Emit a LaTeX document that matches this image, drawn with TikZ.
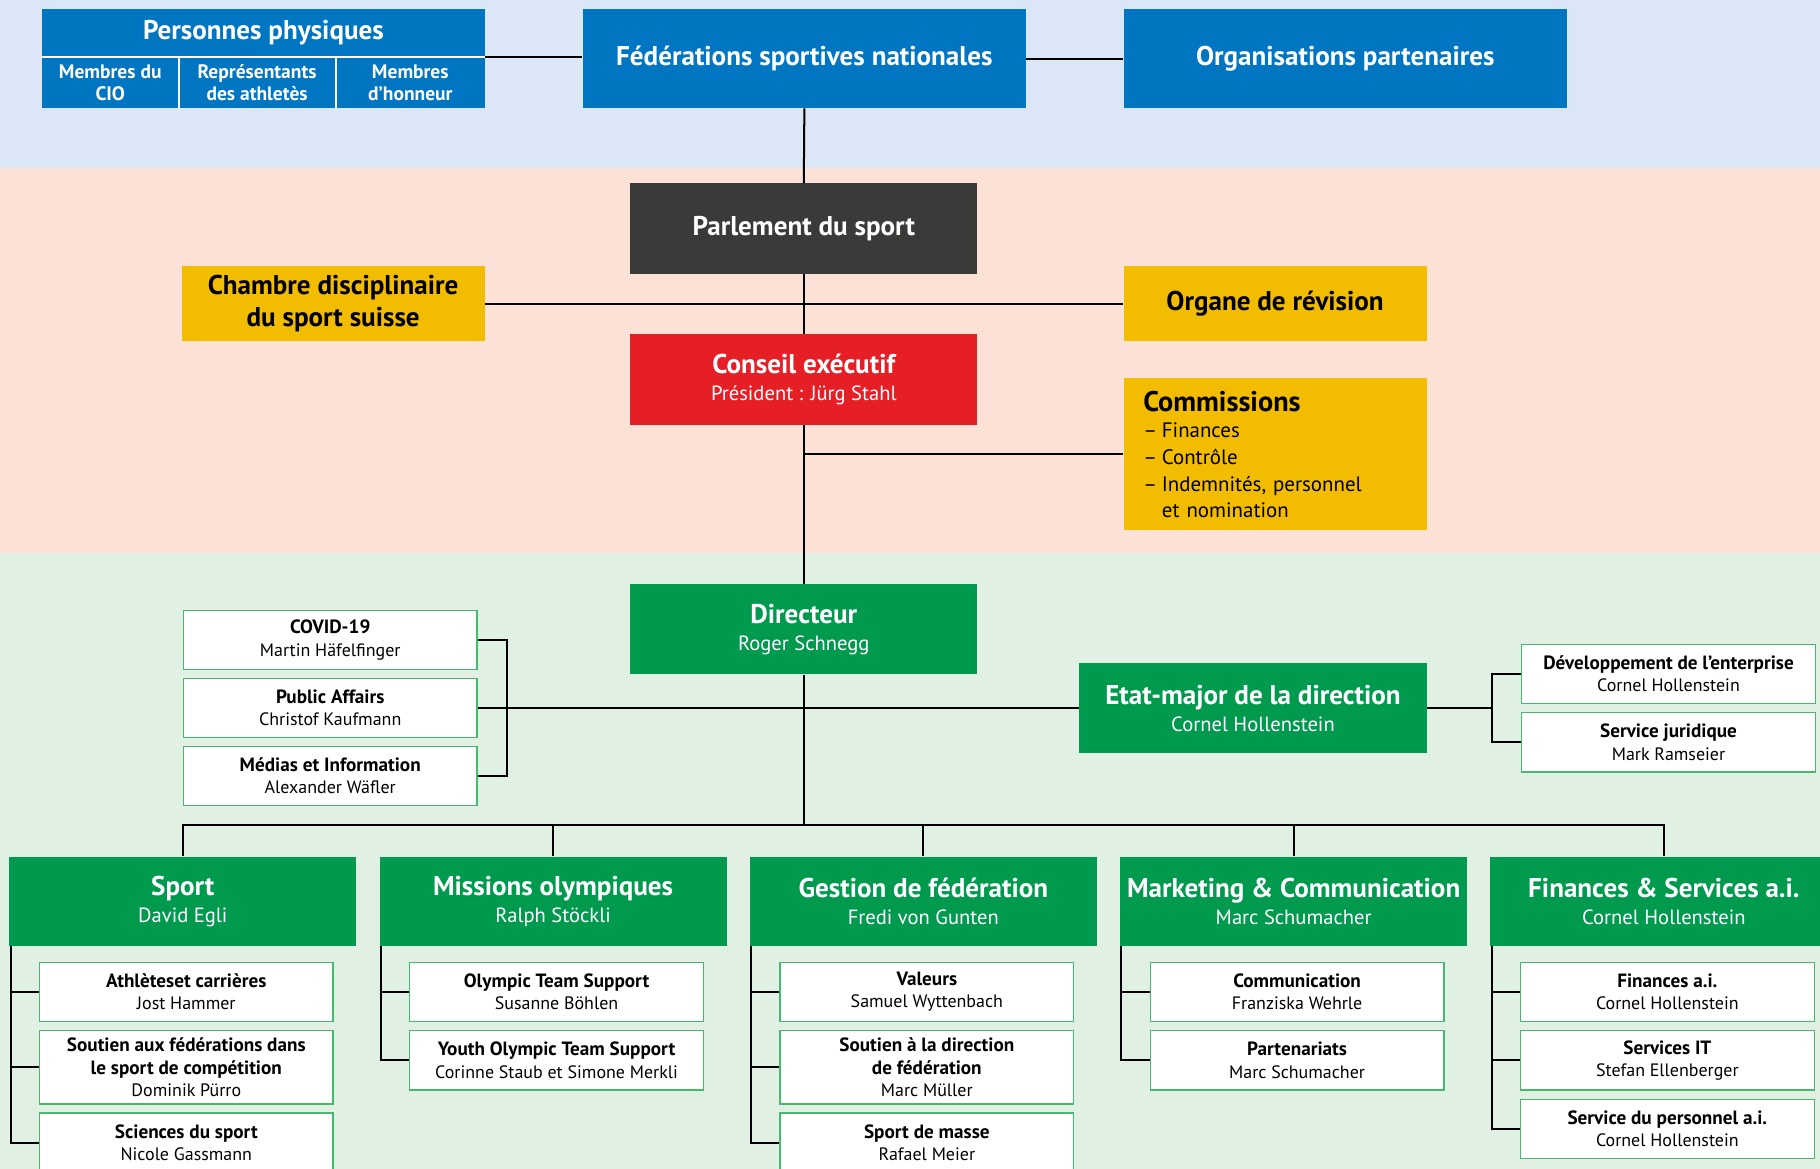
\documentclass[tikz,border=0pt]{standalone}
\usepackage{fontspec}
\setmainfont{PT Sans}
\usepackage{tikz}
\usepackage{xcolor}

\definecolor{bgblue}{RGB}{219,230,246}
\definecolor{bgpink}{RGB}{252,225,215}
\definecolor{bggreen}{RGB}{224,240,226}
\definecolor{sobblue}{RGB}{0,117,193}
\definecolor{sobgray}{RGB}{58,58,56}
\definecolor{sobyellow}{RGB}{242,188,0}
\definecolor{sobred}{RGB}{230,30,37}
\definecolor{sobgreen}{RGB}{0,154,79}
\definecolor{sobline}{RGB}{70,185,110}

\newcommand{\orgtitle}{\fontsize{17.5}{20.5}\selectfont\bfseries}
\newcommand{\orgname}{\fontsize{13.3}{16}\selectfont\mdseries}
\newcommand{\orgcell}{\fontsize{12.6}{14.25}\selectfont\bfseries}
\newcommand{\orgunit}{\fontsize{11.6}{14.5}\selectfont}
\newcommand{\orgbold}[1]{{\fontsize{12.4}{14.5}\selectfont\bfseries #1}}
\newcommand{\orgcomm}{\fontsize{13.5}{17.25}\selectfont}

\tikzset{
  topbox/.style={fill=sobblue, text=white, font=\orgtitle, align=center, inner sep=0pt, minimum width=286.5pt, minimum height=63.75pt},
  cellbox/.style={fill=sobblue, text=white, font=\orgcell, align=center, inner sep=0pt, minimum height=33pt},
  midbox/.style={text=white, font=\orgtitle, align=center, inner sep=0pt, minimum width=224.25pt, minimum height=58.5pt},
  sidebox/.style={fill=sobyellow, text=black, font=\orgtitle, align=center, inner sep=0pt, minimum width=195.75pt, minimum height=48.75pt},
  deptbox/.style={fill=sobgreen, text=white, font=\orgtitle, align=center, inner sep=0pt, minimum width=224.25pt, minimum height=57.75pt},
  unitbox/.style={fill=white, draw=sobline, line width=0.9pt, text=black, font=\orgunit, align=center, inner sep=0pt, minimum width=189.75pt, minimum height=38.25pt},
  tallbox/.style={unitbox, minimum height=47.25pt},
  link/.style={draw=black, line width=1.3pt}
}

\begin{document}
\begin{tikzpicture}[x=0.75pt,y=0.75pt,yscale=-1,xscale=1]
\clip (0,0) rectangle (1568,1007);

%Shape: Rectangle (bands)
\fill [bgblue] (0,0) rectangle (1568,145);
\fill [bgpink] (0,145) rectangle (1568,476);
\fill [bggreen] (0,476) rectangle (1568,1007);

% Text Node
\draw (227,28.5) node [topbox, minimum height=30.75pt] (pers) {Personnes physiques};
% Text Node
\draw (95,71) node [cellbox, minimum width=88.5pt] (cio) {Membres du\\CIO};
% Text Node
\draw (221.5,71) node [cellbox, minimum width=101.25pt] (athl) {Représentants\\des athletès};
% Text Node
\draw (353.5,71) node [cellbox, minimum width=96.75pt] (honn) {Membres\\d’honneur};
%Straight Lines
\draw [white, line width=1pt] (pers.south west) -- (pers.south east);
\draw [white, line width=1pt] (cio.north east) -- (cio.south east);
\draw [white, line width=1pt] (athl.north east) -- (athl.south east);
% Text Node
\draw (693,50.5) node [topbox] (fed) {Fédérations sportives nationales};
% Text Node
\draw (1159,50.5) node [topbox] (org) {Organisations partenaires};

% Text Node
\draw (692.5,197) node [midbox, fill=sobgray] (parl) {Parlement du sport};
% Text Node
\draw (287,261.5) node [sidebox] (chambre) {Chambre disciplinaire\\du sport suisse};
% Text Node
\draw (1098.5,261.5) node [sidebox] (organe) {Organe de révision};
% Text Node
\draw (692.5,327) node [midbox, fill=sobred] (conseil) {Conseil exécutif\\[-3pt]{\orgname Président : Jürg Stahl}};
% Text Node
\draw (1098.5,391.5) node [sidebox, minimum height=98.25pt, font=\orgcomm, align=left, text width=170.25pt, inner xsep=12.75pt] (comm) {{\fontsize{18.3}{20}\selectfont\bfseries Commissions}\\
  \makebox[12pt][l]{–}Finances\\
  \makebox[12pt][l]{–}Contrôle\\
  \makebox[12pt][l]{–}Indemnités, personnel\\
  \hspace*{12pt}et nomination};

% Text Node
\draw (692.5,542) node [midbox, fill=sobgreen] (dir) {Directeur\\[-3pt]{\orgname Roger Schnegg}};
% Text Node
\draw (1079.5,610) node [midbox, fill=sobgreen] (etat) {Etat-major de la direction\\[-3pt]{\orgname Cornel Hollenstein}};
% Text Node
\draw (284.5,551.5) node [unitbox] (covid) {\orgbold{COVID-19}\\Martin Häfelfinger};
\draw (284.5,610) node [unitbox] (public) {\orgbold{Public Affairs}\\Christof Kaufmann};
\draw (284.5,668.5) node [unitbox] (medias) {\orgbold{Médias et Information}\\Alexander Wäfler};
% Text Node
\draw (1437.5,580.5) node [unitbox] (dev) {\orgbold{Développement de l’enterprise}\\Cornel Hollenstein};
\draw (1437.5,639.5) node [unitbox] (jur) {\orgbold{Service juridique}\\Mark Ramseier};

% Text Node (departements)
\draw (157.5,776.5) node [deptbox] (sport) {Sport\\[-3pt]{\orgname David Egli}};
\draw (476.5,776.5) node [deptbox] (miss) {Missions olympiques\\[-3pt]{\orgname Ralph Stöckli}};
\draw (795.5,776.5) node [deptbox] (gest) {Gestion de fédération\\[-3pt]{\orgname Fredi von Gunten}};
\draw (1114.5,776.5) node [deptbox] (mark) {Marketing \& Communication\\[-3pt]{\orgname Marc Schumacher}};
\draw (1433.5,776.5) node [deptbox] (fin) {Finances \& Services a.i.\\[-3pt]{\orgname Cornel Hollenstein}};

% Text Node (sport)
\draw (160.5,854.5) node [unitbox] (ath) {\orgbold{Athlèteset carrières}\\Jost Hammer};
\draw (160.5,919.5) node [tallbox] (souf) {\orgbold{Soutien aux fédérations dans}\\\orgbold{le sport de compétition}\\Dominik Pürro};
\draw (160.5,984.5) node [unitbox] (sci) {\orgbold{Sciences du sport}\\Nicole Gassmann};
% Text Node (missions)
\draw (479.5,854.5) node [unitbox] (ots) {\orgbold{Olympic Team Support}\\Susanne Böhlen};
\draw (479.5,913.5) node [unitbox] (yots) {\orgbold{Youth Olympic Team Support}\\Corinne Staub et Simone Merkli};
% Text Node (gestion)
\draw (798.5,854.5) node [unitbox] (val) {\orgbold{Valeurs}\\Samuel Wyttenbach};
\draw (798.5,919.5) node [tallbox] (soud) {\orgbold{Soutien à la direction}\\\orgbold{de fédération}\\Marc Müller};
\draw (798.5,984.5) node [unitbox] (masse) {\orgbold{Sport de masse}\\Rafael Meier};
% Text Node (marketing)
\draw (1117.5,854.5) node [unitbox] (comu) {\orgbold{Communication}\\Franziska Wehrle};
\draw (1117.5,913.5) node [unitbox] (part) {\orgbold{Partenariats}\\Marc Schumacher};
% Text Node (finances)
\draw (1436.5,854.5) node [unitbox] (fina) {\orgbold{Finances a.i.}\\Cornel Hollenstein};
\draw (1436.5,913.5) node [unitbox] (sit) {\orgbold{Services IT}\\Stefan Ellenberger};
\draw (1436.5,972.5) node [unitbox] (pers2) {\orgbold{Service du personnel a.i.}\\Cornel Hollenstein};

%Straight Lines
\coordinate (lbr) at (437,610);
\coordinate (rbr) at (1285,610);
\coordinate (bus) at (692.5,711);
\draw [link] (pers.south east) -- (pers.south east -| fed.west);
\draw [link] (fed.east) -- (org.west);
\draw [link] (fed.south) -- (parl.north);
\draw [link] (chambre.east) -- (organe.west);
\draw [link] (parl.south) -- (conseil.north);
\draw [link] (conseil.south) -- (dir.north);
\draw [link] (comm.west) -- (comm.west -| conseil.south);
\draw [link] (covid.east) -| (lbr) |- (medias.east);
\draw [link] (public.east) -- (etat.west);
\draw [link] (dev.west) -| (rbr) |- (jur.west);
\draw [link] (etat.east) -- (rbr);
\draw [link] (dir.south) -- (bus);
\draw [link] (sport.north) |- (bus) -| (fin.north);
\foreach \d in {miss,gest,mark}
  \draw [link] (\d.north) -- (\d.north |- bus);

%Straight Lines (brackets)
\foreach \u in {ath,souf,sci}
  \draw [link] (\u.west) -| ([xshift=1pt]sport.south west);
\foreach \u in {ots,yots}
  \draw [link] (\u.west) -| ([xshift=1pt]miss.south west);
\foreach \u in {val,soud,masse}
  \draw [link] (\u.west) -| ([xshift=1pt]gest.south west);
\foreach \u in {comu,part}
  \draw [link] (\u.west) -| ([xshift=1pt]mark.south west);
\foreach \u in {fina,sit,pers2}
  \draw [link] (\u.west) -| ([xshift=1pt]fin.south west);

\end{tikzpicture}
\end{document}
